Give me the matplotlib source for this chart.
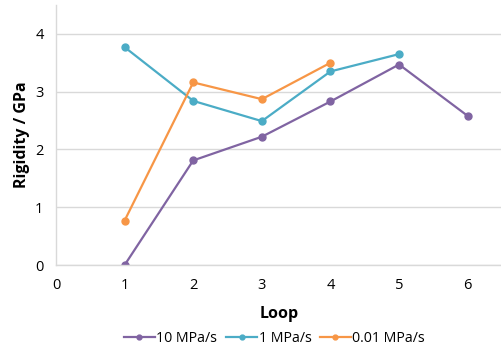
import matplotlib.pyplot as plt

plt.rcParams['font.family'] = ['Open Sans', 'DejaVu Sans']

loops_10 = [1, 2, 3, 4, 5, 6]
rig_10 = [0.0, 1.81, 2.22, 2.83, 3.47, 2.58]
loops_1 = [1, 2, 3, 4, 5]
rig_1 = [3.77, 2.84, 2.49, 3.35, 3.65]
loops_001 = [1, 2, 3, 4]
rig_001 = [0.77, 3.16, 2.87, 3.50]

fig = plt.figure(figsize=(5.02, 3.56), dpi=100)
ax = fig.add_axes([0.1116, 0.2556, 0.8884, 0.7304])

ax.plot(loops_10, rig_10, color='#8064A2', marker='o', ms=5, lw=1.6, label='10 MPa/s')
ax.plot(loops_1, rig_1, color='#4BACC6', marker='o', ms=5, lw=1.6, label='1 MPa/s')
ax.plot(loops_001, rig_001, color='#F79646', marker='o', ms=5, lw=1.6, label='0.01 MPa/s')

ax.set_xlim(0, 6.5)
ax.set_ylim(0, 4.5)
ax.set_xticks([0, 1, 2, 3, 4, 5, 6])
ax.set_yticks([0, 1, 2, 3, 4])
ax.yaxis.grid(True, color='#D9D9D9', lw=1)
ax.set_axisbelow(True)
for s in ['top', 'right']:
    ax.spines[s].set_visible(False)
for s in ['left', 'bottom']:
    ax.spines[s].set_color('#D9D9D9')
    ax.spines[s].set_linewidth(1)
ax.tick_params(length=0, labelsize=10.5, colors='#000000', pad=9)

ax.set_xlabel('Loop', fontsize=11.5, fontweight='bold', labelpad=10)
ax.set_ylabel('Rigidity / GPa', fontsize=11.5, fontweight='bold', labelpad=4)

ax.legend(loc='upper center', bbox_to_anchor=(0.49, -0.205), ncol=3, frameon=False,
          fontsize=10.2, handlelength=2.2, handletextpad=0.1, columnspacing=0.6,
          markerscale=0.7)

fig.savefig('out.png', dpi=100)
